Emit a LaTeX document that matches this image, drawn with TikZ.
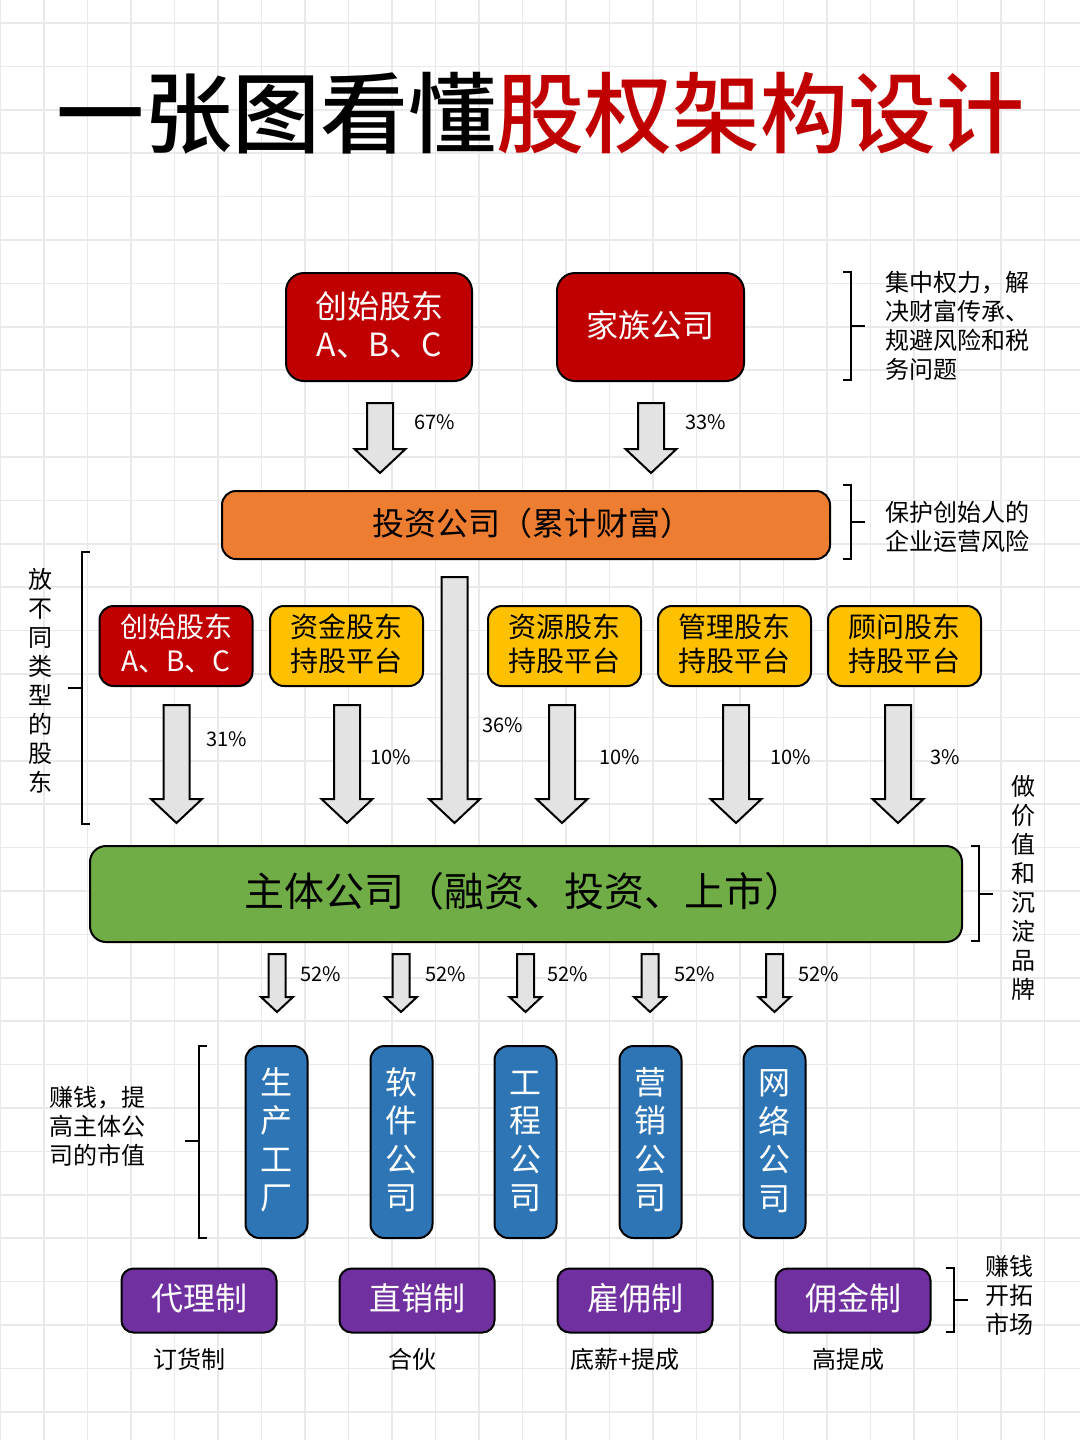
\documentclass[tikz,border=0pt]{standalone}
\usepackage{fontspec}
\setmainfont{Noto Sans CJK SC}
\newfontfamily\titlefont{Noto Sans CJK SC Medium}
\definecolor{cred}{HTML}{C00000}
\definecolor{corange}{HTML}{ED7D31}
\definecolor{cyellow}{HTML}{FFC000}
\definecolor{cgreen}{HTML}{70AD47}
\definecolor{cblue}{HTML}{2E75B6}
\definecolor{cpurple}{HTML}{7030A0}
\definecolor{cgrid}{HTML}{E9E9EC}
\definecolor{carrow}{HTML}{E3E3E3}
\tikzset{
  fbox/.style={draw=black,line width=2pt,rounded corners=#1,inner sep=0pt,outer sep=0pt,align=center},
  side/.style={inner sep=0pt,outer sep=0pt,align=left,font=\fontsize{24}{29}\selectfont},
  vside/.style={inner sep=0pt,outer sep=0pt,align=center,font=\fontsize{24}{29}\selectfont},
  pct/.style={inner sep=0pt,outer sep=0pt,anchor=west,font=\fontsize{20}{24}\selectfont},
  sub/.style={inner sep=0pt,outer sep=0pt,font=\fontsize{24}{29}\selectfont},
  brk/.style={draw=black,line width=1.8pt},
  barrow/.style={draw=black,line width=2pt,fill=carrow,miter limit=10},
  f32/.style={font=\fontsize{32}{38.5}\selectfont},
  f28/.style={font=\fontsize{28}{34}\selectfont},
}
% text block lifted by half of #1 inside its box
\newcommand{\lift}[2]{\raisebox{0pt}[\height][\dimexpr\depth+#1\relax]{\begin{tabular}{@{}c@{}}#2\end{tabular}}}
% big arrow: centre x, top y, tip y
\newcommand{\bigarr}[3]{\draw[barrow] (#1-13,#2) -- (#1+13,#2) -- (#1+13,#3-25) -- (#1+25.5,#3-25) -- (#1,#3-1) -- (#1-25.5,#3-25) -- (#1-13,#3-25) -- cycle;}
\newcommand{\smallarr}[3]{\draw[barrow] (#1-8.5,#2) -- (#1+8.5,#2) -- (#1+8.5,#3-16) -- (#1+16,#3-16) -- (#1,#3-1) -- (#1-16,#3-16) -- (#1-8.5,#3-16) -- cycle;}
% bracket: x0, x1, ytop, ybot, ymid, xtick
\newcommand{\bracket}[6]{\draw[brk] (#1,#3) -- (#2,#3) -- (#2,#4) -- (#1,#4); \draw[brk] (#2,#5) -- (#6,#5);}
\begin{document}
\begin{tikzpicture}[x=1pt,y=-1pt]
\useasboundingbox (0,0) rectangle (1080,1440);
\fill[white] (0,0) rectangle (1080,1440);
\foreach \k in {0,...,24} {\draw[cgrid,line width=1.5pt] ({0.5+43.5*\k},0) -- ({0.5+43.5*\k},1440);}
\foreach \k in {0,...,32} {\draw[cgrid,line width=1.5pt] (0,{23+43.4*\k}) -- (1080,{23+43.4*\k});}

% title
\node[inner sep=0pt,outer sep=0pt,font=\fontsize{88}{100}\selectfont\titlefont] (title) at (540,113) {一张图看懂\textcolor{cred}{股权架构设计}};

% top row
\node[fbox=18pt,fill=cred,text=white,f32,minimum width=186,minimum height=108] (founder) at (379,327) {\lift{-5pt}{创始股东\\A、B、C}};
\node[fbox=18pt,fill=cred,text=white,f32,minimum width=187,minimum height=108] (family) at (650.5,327) {\lift{-6pt}{家族公司}};
\node[fbox=14pt,fill=corange,f32,minimum width=608,minimum height=68] (invest) at (526,525) {\lift{-6pt}{\hspace*{12pt}投资公司（累计财富）}};

% shareholder row
\node[fbox=14pt,fill=cred,text=white,f28,minimum width=153,minimum height=80] (s1) at (176,646) {\lift{-4pt}{创始股东\\A、B、C}};
\node[fbox=14pt,fill=cyellow,f28,minimum width=153,minimum height=80] (s2) at (346.5,646) {\lift{-4pt}{资金股东\\持股平台}};
\node[fbox=14pt,fill=cyellow,f28,minimum width=153,minimum height=80] (s3) at (564.5,646) {\lift{-4pt}{资源股东\\持股平台}};
\node[fbox=14pt,fill=cyellow,f28,minimum width=153,minimum height=80] (s4) at (734.5,646) {\lift{-4pt}{管理股东\\持股平台}};
\node[fbox=14pt,fill=cyellow,f28,minimum width=153,minimum height=80] (s5) at (904.5,646) {\lift{-4pt}{顾问股东\\持股平台}};

% main company
\node[fbox=16pt,fill=cgreen,minimum width=872,minimum height=96,font=\fontsize{40}{48}\selectfont] (main) at (526,894) {\lift{-5pt}{主体公司（融资、投资、上市）\hspace*{4pt}}};

% subsidiaries
\tikzset{vbox/.style={fbox=14pt,fill=cblue,text=white,minimum width=62,minimum height=192,font=\fontsize{32}{38.5}\selectfont}}
\node[vbox] (c1) at (276.5,1142) {\lift{-5pt}{生\\产\\工\\厂}};
\node[vbox] (c2) at (401.5,1142) {\lift{-5pt}{软\\件\\公\\司}};
\node[vbox] (c3) at (525.5,1142) {\lift{-5pt}{工\\程\\公\\司}};
\node[vbox] (c4) at (650.5,1142) {\lift{-5pt}{营\\销\\公\\司}};
\node[vbox] (c5) at (774.5,1142) {\lift{-5pt}{网\\络\\公\\司}};

% sales modes
\tikzset{pbox/.style={fbox=12pt,fill=cpurple,text=white,f32,minimum width=155,minimum height=64}}
\node[pbox] (p1) at (199,1300.5) {\lift{-4pt}{代理制}};
\node[pbox] (p2) at (417,1300.5) {\lift{-4pt}{直销制}};
\node[pbox] (p3) at (635,1300.5) {\lift{-4pt}{雇佣制}};
\node[pbox] (p4) at (853,1300.5) {\lift{-4pt}{佣金制}};

% arrows
\bigarr{380}{403}{474}
\bigarr{651}{403}{474}
\bigarr{176.5}{705}{824}
\bigarr{347}{705}{824}
\bigarr{454.5}{577}{824}
\bigarr{562}{705}{824}
\bigarr{736}{705}{824}
\bigarr{898}{705}{824}
\smallarr{277}{954}{1013}
\smallarr{401}{954}{1013}
\smallarr{525.5}{954}{1013}
\smallarr{650}{954}{1013}
\smallarr{774.5}{954}{1013}

% percent labels
\node[pct] (l1) at (414,422) {67\%};
\node[pct] (l2) at (685,422) {33\%};
\node[pct] (l3) at (206,739) {31\%};
\node[pct] (l4) at (370,757) {10\%};
\node[pct] (l5) at (482,725) {36\%};
\node[pct] (l6) at (599,757) {10\%};
\node[pct] (l7) at (770,757) {10\%};
\node[pct] (l8) at (930,757) {3\%};
\node[pct] (m1) at (300,974) {52\%};
\node[pct] (m2) at (425,974) {52\%};
\node[pct] (m3) at (547,974) {52\%};
\node[pct] (m4) at (674,974) {52\%};
\node[pct] (m5) at (798,974) {52\%};

% brackets
\bracket{843}{851}{272}{380}{326}{865}
\bracket{843}{851}{485}{559}{522}{865}
\bracket{90}{82}{552}{824}{688}{68}
\bracket{971}{979}{846}{941}{894}{993}
\bracket{207}{199}{1046}{1238}{1141}{185}
\bracket{946}{954}{1268}{1332}{1300}{968}

% side notes
\node[side,anchor=west] (n1) at (885,325.5) {集中权力，解\\决财富传承、\\规避风险和税\\务问题};
\node[side,anchor=west] (n2) at (885,526.5) {保护创始人的\\企业运营风险};
\node[vside] (n3) at (40,680.5) {放\\不\\同\\类\\型\\的\\股\\东};
\node[vside] (n4) at (1023,888) {做\\价\\值\\和\\沉\\淀\\品\\牌};
\node[side,anchor=west] (n5) at (49,1126) {赚钱，提\\高主体公\\司的市值};
\node[vside] (n6) at (1009,1295.5) {赚钱\\开拓\\市场};

% bottom labels
\node[sub] (b1) at (189,1359) {订货制};
\node[sub] (b2) at (412,1359) {合伙};
\node[sub] (b3) at (625,1359) {底薪+提成};
\node[sub] (b4) at (848,1359) {高提成};
\end{tikzpicture}
\end{document}
